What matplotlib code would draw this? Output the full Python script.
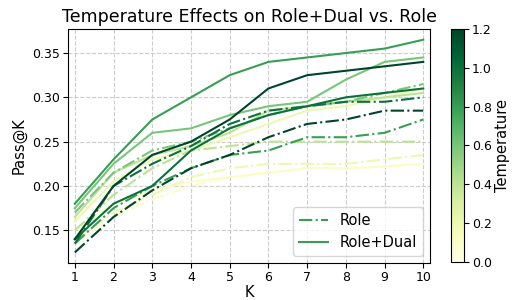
import matplotlib
matplotlib.use("Agg")
import matplotlib.pyplot as plt
import numpy as np

# data
K = [1, 2, 3, 4, 5, 6, 7, 8, 9, 10]
temps = [0.1, 0.2, 0.4, 0.6, 0.8, 1.0, 1.2]

role = {
    0.1: [0.135, 0.165, 0.185, 0.200, 0.210, 0.215, 0.220, 0.220, 0.222, 0.225],
    0.2: [0.140, 0.170, 0.190, 0.210, 0.220, 0.225, 0.225, 0.225, 0.230, 0.235],
    0.4: [0.150, 0.190, 0.220, 0.240, 0.245, 0.250, 0.250, 0.250, 0.250, 0.250],
    0.6: [0.170, 0.215, 0.240, 0.250, 0.265, 0.280, 0.290, 0.295, 0.305, 0.315],
    0.8: [0.135, 0.175, 0.200, 0.220, 0.235, 0.240, 0.255, 0.255, 0.260, 0.275],
    1.0: [0.135, 0.200, 0.225, 0.245, 0.270, 0.285, 0.290, 0.295, 0.295, 0.300],
    1.2: [0.125, 0.165, 0.195, 0.220, 0.235, 0.255, 0.270, 0.275, 0.285, 0.285],
}
dual = {
    0.1: [0.150, 0.180, 0.195, 0.205, 0.210, 0.215, 0.220, 0.220, 0.222, 0.225],
    0.2: [0.160, 0.205, 0.230, 0.240, 0.255, 0.270, 0.285, 0.290, 0.300, 0.310],
    0.4: [0.165, 0.215, 0.235, 0.245, 0.260, 0.285, 0.290, 0.295, 0.300, 0.305],
    0.6: [0.175, 0.225, 0.260, 0.265, 0.280, 0.290, 0.295, 0.320, 0.340, 0.345],
    0.8: [0.180, 0.230, 0.275, 0.300, 0.325, 0.340, 0.345, 0.350, 0.355, 0.365],
    1.0: [0.140, 0.180, 0.200, 0.240, 0.265, 0.280, 0.290, 0.300, 0.305, 0.310],
    1.2: [0.140, 0.200, 0.235, 0.250, 0.275, 0.310, 0.325, 0.330, 0.335, 0.340],
}

cmap = plt.get_cmap('YlGn')
norm = matplotlib.colors.Normalize(vmin=0, vmax=1.2)

fig = plt.figure(figsize=(5.14, 3.0), dpi=100)
ax = fig.add_axes([0.132, 0.123, 0.705, 0.780])

for t in temps:
    c = cmap(norm(t))
    ax.plot(K, role[t], linestyle='-.', color=c, lw=1.5)
    ax.plot(K, dual[t], linestyle='-', color=c, lw=1.5)

ax.set_xlim(0.82, 10.18)
ax.set_ylim(0.113, 0.377)
ax.set_xticks(K)
ax.set_yticks([0.15, 0.20, 0.25, 0.30, 0.35])
ax.tick_params(labelsize=9, pad=2)
ax.grid(True, linestyle='--', color='#cccccc', lw=0.8)
ax.set_xlabel('K', fontsize=10.5, labelpad=1)
ax.set_ylabel('Pass@K', fontsize=10.5)
ax.set_title('Temperature Effects on Role+Dual vs. Role', fontsize=12.5, pad=5)

# legend with neutral mid-green
lc = cmap(norm(0.8))
h1, = ax.plot([], [], linestyle='-.', color=lc, lw=1.5, label='Role')
h2, = ax.plot([], [], linestyle='-', color=lc, lw=1.5, label='Role+Dual')
ax.legend(handles=[h1, h2], loc='lower right', fontsize=10.5)

cax = fig.add_axes([0.878, 0.127, 0.025, 0.776])
sm = matplotlib.cm.ScalarMappable(norm=norm, cmap=cmap)
cb = fig.colorbar(sm, cax=cax)
cb.set_label('Temperature', fontsize=10.5, labelpad=2)
cb.ax.tick_params(labelsize=9, pad=2)

fig.savefig('out.png', dpi=100)
